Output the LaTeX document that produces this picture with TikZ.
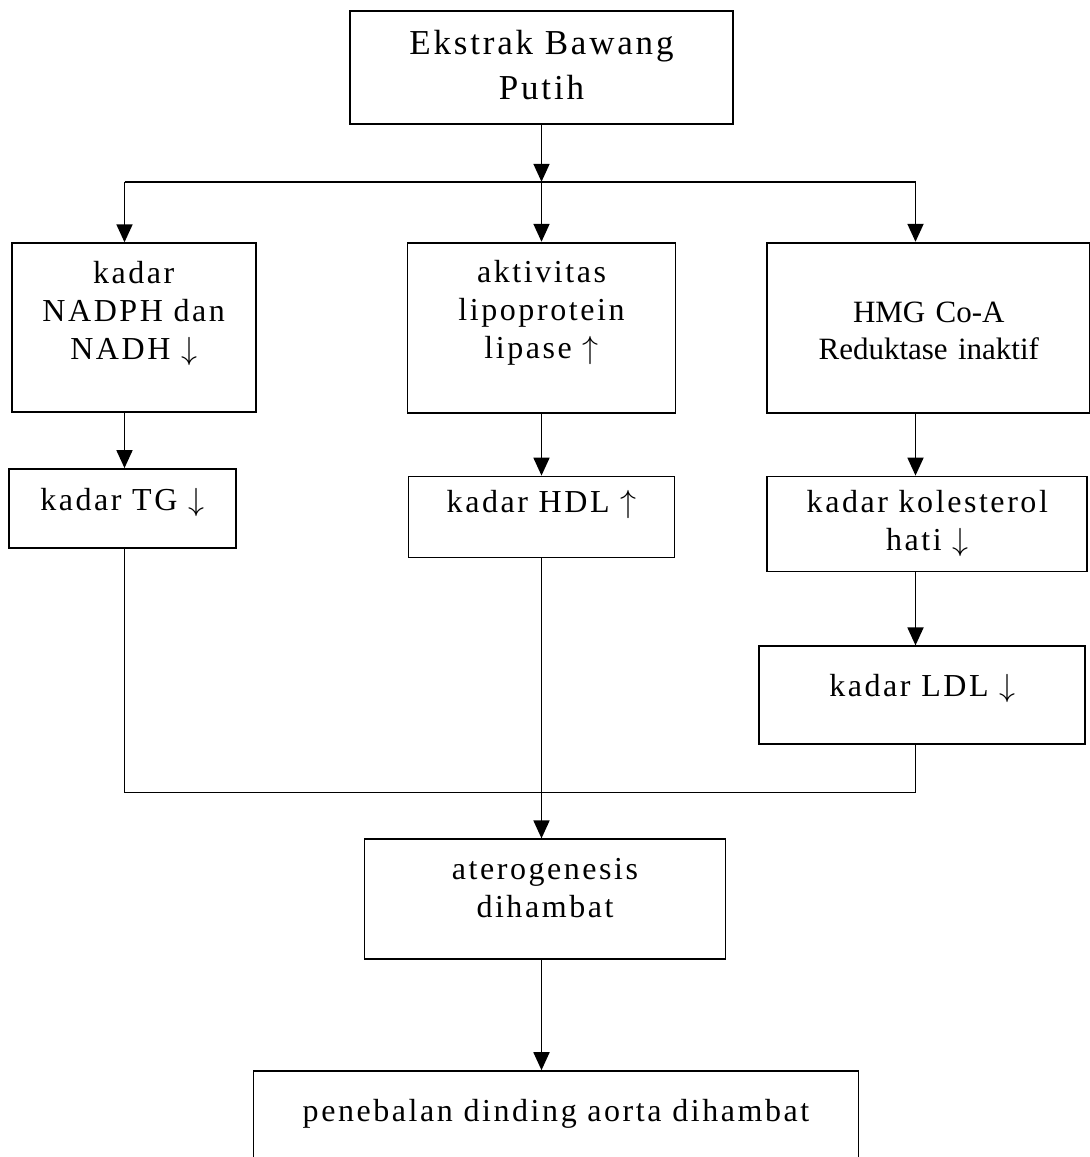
\RequirePackage{fix-cm}
\documentclass[tikz,border=0pt]{standalone}
\usepackage{fontspec}
\setmainfont{Liberation Serif}[LetterSpace=8, WordSpace=1.5]
\newfontfamily\hmgfont{Liberation Serif}
\usetikzlibrary{positioning,arrows.meta}

\begin{document}
\begin{tikzpicture}[
  font=\fontsize{32pt}{38pt}\selectfont,
  box/.style={draw, line width=1.8pt, inner sep=0pt, align=center},
  sz/.style n args={3}{text width=#1, text height=#2, text depth=#3},
  arr/.style={-{Triangle[length=18pt, width=16pt]}, line width=1.8pt},
  line/.style={line width=1.8pt},
]
\useasboundingbox (0,0) rectangle (1090pt,-1157pt);
\node[box, sz={383pt}{44pt}{69pt}, anchor=north,
      font=\fontsize{35pt}{45pt}\selectfont] (ekstrak) at (541.5pt,-10pt)
  {Ekstrak Bawang\\Putih};
\node[box, sz={268pt}{40pt}{130pt}, below=117pt of ekstrak] (lipase)
  {aktivitas\\lipoprotein\\lipase $\uparrow$};
\node[box, sz={244pt}{40pt}{129pt}, left=150pt of lipase] (nadph)
  {kadar\\NADPH dan\\NADH $\downarrow$};
\node[box, sz={323pt}{80pt}{90pt}, right=90pt of lipase,
      font=\hmgfont\fontsize{31pt}{37pt}\selectfont] (hmg)
  {HMG Co-A\\Reduktase inaktif};
\node[box, sz={227pt}{41pt}{38pt}, below=55pt of nadph.south west,
      anchor=north west, xshift=-3pt] (tg) {kadar TG $\downarrow$};
\node[box, sz={266pt}{36pt}{45pt}, below=62pt of lipase] (hdl) {kadar HDL $\uparrow$};
\node[box, sz={320pt}{36pt}{59pt}, below=62pt of hmg.south west,
      anchor=north west] (kol) {kadar kolesterol\\hati $\downarrow$};
\node[box, sz={326pt}{50pt}{48pt}, below=73pt of kol.south west,
      anchor=north west, xshift=-8pt] (ldl) {kadar LDL $\downarrow$};
\node[box, sz={361pt}{40pt}{80pt}, below=280pt of hdl, xshift=3.5pt] (atero)
  {aterogenesis\\dihambat};
\node[box, sz={605pt}{50pt}{42pt}, below=110pt of atero, xshift=11pt] (aorta)
  {penebalan dinding aorta dihambat};

\coordinate[below=57pt of ekstrak.south] (fork);
\coordinate[left=417pt of fork] (forkL);
\coordinate[right=374pt of fork] (forkR);
\coordinate[below=234pt of hdl.south] (merge);

\draw[arr] (ekstrak) -- (fork);
\draw[line] (forkL) -- (forkR);
\draw[arr] (fork) -- (lipase);
\draw[arr] (forkL) -- (forkL |- nadph.north);
\draw[arr] (forkR) -- (forkR |- hmg.north);
\draw[arr] (forkL |- nadph.south) -- (forkL |- tg.north);
\draw[arr] (lipase) -- (hdl);
\draw[arr] (forkR |- hmg.south) -- (forkR |- kol.north);
\draw[arr] (forkR |- kol.south) -- (forkR |- ldl.north);
\draw[line] (forkL |- tg.south) |- (merge) -| (forkR |- ldl.south);
\draw[arr] (hdl.south) -- (hdl.south |- atero.north);
\draw[arr] (hdl.south |- atero.south) -- (hdl.south |- aorta.north);
\end{tikzpicture}
\end{document}
